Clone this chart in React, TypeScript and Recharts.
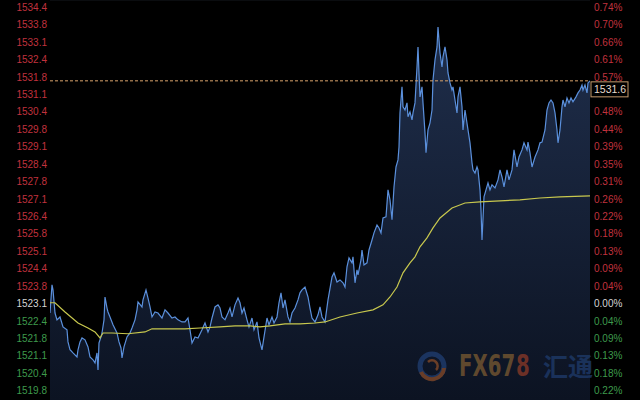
import {
  Area,
  CartesianGrid,
  ComposedChart,
  Line,
  ReferenceLine,
  XAxis,
  YAxis,
} from "recharts";

// left axis labels, top to bottom (index 17 = previous close)
const priceLabels = [
  "1534.4", "1533.8", "1533.1", "1532.4", "1531.8", "1531.1", "1530.4", "1529.8",
  "1529.1", "1528.4", "1527.8", "1527.1", "1526.4", "1525.8", "1525.1", "1524.4",
  "1523.8", "1523.1", "1522.4", "1521.8", "1521.1", "1520.4", "1519.8",
];

const pctLabels = [
  "0.74%", "0.70%", "0.66%", "0.61%", "0.57%", "0.52%", "0.48%", "0.44%",
  "0.39%", "0.35%", "0.31%", "0.26%", "0.22%", "0.18%", "0.13%", "0.09%",
  "0.04%", "0.00%", "0.04%", "0.09%", "0.13%", "0.18%", "0.22%",
];

const BASE_INDEX = 17;
const TOP = 1534.4;
const STEP = 14.6 / 22;
const LAST_PRICE = 1531.6;

// [minute, price]
const morning: [number, number][] = [
  [0, 1522.76], [2, 1523.83], [3, 1523.64], [5, 1522.76], [7, 1522.5], [10, 1522.61],
  [13, 1522.23], [17, 1522.12], [18, 1521.66], [20, 1521.36], [23, 1521.24], [27, 1521.09],
  [28, 1521.36], [30, 1521.66], [32, 1521.81], [35, 1521.74], [38, 1521.47], [40, 1521.09],
  [43, 1520.98], [45, 1520.86], [47, 1521.24], [48, 1520.59], [49, 1521.62], [51, 1521.85],
  [52, 1522.0], [54, 1522.5], [55, 1523.37], [57, 1522.95], [58, 1522.8], [60, 1522.61],
  [63, 1522.31], [67, 1522.0], [69, 1521.66], [71, 1521.43], [72, 1521.05], [74, 1521.47],
  [77, 1521.85], [80, 1522.0], [82, 1522.19], [85, 1522.5], [87, 1522.88], [88, 1523.18],
  [92, 1522.99], [93, 1523.26], [96, 1523.64], [98, 1523.33], [100, 1522.99], [102, 1522.61],
  [105, 1522.8], [108, 1522.76], [112, 1522.57], [115, 1522.88], [118, 1522.76], [122, 1522.57],
  [125, 1522.61], [128, 1522.5], [132, 1522.42],
];

const midday: [number, number][] = [
  [135, 1522.42], [138, 1522.57], [140, 1522.12], [142, 1521.62], [145, 1521.85], [148, 1521.81],
  [152, 1522.12], [155, 1522.38], [158, 1522.04], [160, 1522.23], [162, 1522.57], [165, 1522.99],
  [168, 1523.07], [170, 1522.95], [172, 1522.61], [175, 1522.5], [178, 1522.76], [180, 1522.95],
  [182, 1522.61], [185, 1523.07], [188, 1523.33], [190, 1523.15], [192, 1522.76], [194, 1522.95],
  [197, 1522.5], [199, 1522.23], [202, 1522.57], [204, 1522.12], [207, 1522.42], [209, 1521.81],
  [212, 1521.36], [214, 1521.85], [217, 1522.57], [219, 1522.31], [222, 1522.61], [224, 1522.38],
  [227, 1522.61], [229, 1523.15], [231, 1523.53], [233, 1522.95], [235, 1523.26], [238, 1522.61],
  [240, 1522.42], [242, 1522.76], [245, 1522.95], [248, 1523.26], [250, 1523.53], [252, 1523.64],
  [255, 1523.75], [258, 1523.37], [260, 1522.95], [262, 1522.57], [265, 1522.42], [268, 1522.69],
  [270, 1522.99], [272, 1522.61], [275, 1522.42],
];

const rally: [number, number][] = [
  [278, 1523.26], [282, 1524.13], [284, 1524.29], [287, 1523.94], [290, 1524.02], [293, 1523.91],
  [295, 1523.75], [297, 1524.52], [299, 1524.86], [302, 1524.67], [303, 1524.9], [305, 1523.91],
  [307, 1524.4], [308, 1524.21], [311, 1524.78], [312, 1525.16], [314, 1524.59], [317, 1524.67],
  [319, 1525.16], [322, 1525.54], [324, 1525.81], [327, 1526.11], [329, 1526.0], [331, 1525.81],
  [333, 1526.38], [336, 1526.42], [338, 1527.45], [340, 1527.07], [342, 1526.31], [344, 1527.56],
  [346, 1528.32], [348, 1528.59], [349, 1529.08], [350, 1530.38], [352, 1531.37], [353, 1530.61],
  [355, 1530.49], [357, 1530.76], [358, 1530.23], [360, 1530.42], [362, 1530.11], [363, 1530.38],
  [365, 1530.76], [367, 1532.13], [368, 1532.89], [369, 1531.9], [370, 1530.99], [372, 1531.37],
  [373, 1530.76], [375, 1529.62], [376, 1528.86], [378, 1529.73], [380, 1530.0], [382, 1530.49],
  [383, 1531.63], [385, 1532.4], [387, 1532.89], [388, 1533.65], [390, 1532.66], [392, 1532.13],
  [393, 1532.51], [395, 1532.89], [397, 1532.4], [398, 1531.9], [400, 1531.52], [402, 1531.25],
  [403, 1531.37], [405, 1530.87], [407, 1530.38], [408, 1530.99], [410, 1531.37], [412, 1530.61],
  [413, 1529.73], [415, 1530.49],
];

const evening: [number, number][] = [
  [418, 1529.73], [420, 1529.24], [422, 1528.48], [423, 1528.21], [425, 1528.09], [427, 1528.32],
  [428, 1528.21], [430, 1527.45], [431, 1526.69], [432, 1525.54], [434, 1527.18], [436, 1527.45],
  [438, 1527.71], [440, 1527.45], [442, 1527.64], [445, 1527.52], [448, 1527.83], [450, 1528.21],
  [452, 1527.94], [454, 1527.56], [457, 1528.21], [459, 1527.83], [462, 1528.21], [464, 1528.97],
  [467, 1528.32], [469, 1528.7], [472, 1528.97], [474, 1529.24], [477, 1528.97], [478, 1529.27],
  [480, 1528.86], [482, 1528.32], [485, 1528.7], [488, 1528.97], [490, 1529.24], [492, 1529.27],
  [495, 1529.73], [497, 1530.49], [499, 1530.76], [501, 1530.87], [503, 1530.76], [505, 1530.38],
  [507, 1529.73], [508, 1529.24], [510, 1529.73], [512, 1530.61], [513, 1530.87], [515, 1530.61],
  [517, 1530.95], [519, 1530.76], [521, 1530.95], [523, 1530.8], [526, 1530.99], [528, 1531.14],
  [530, 1531.25], [532, 1531.44], [533, 1531.25], [535, 1531.44], [537, 1531.14], [538, 1531.52],
  [540, 1531.6],
];

// average price line
const average: [number, number][] = [
  [0, 1523.15], [5, 1523.15], [15, 1522.8], [28, 1522.38], [38, 1522.19], [45, 1522.04],
  [50, 1521.81], [53, 1522.0], [62, 1522.0], [78, 1521.97], [95, 1522.04], [102, 1522.16],
  [112, 1522.16], [135, 1522.16], [150, 1522.19], [170, 1522.23], [185, 1522.27], [200, 1522.27],
  [210, 1522.23], [220, 1522.27], [235, 1522.35], [250, 1522.35], [265, 1522.38], [275, 1522.42],
  [290, 1522.61], [307, 1522.76], [323, 1522.88], [333, 1523.07], [340, 1523.37], [347, 1523.75],
  [353, 1524.29], [360, 1524.67], [365, 1524.9], [370, 1525.28], [377, 1525.62], [383, 1526.0],
  [390, 1526.38], [402, 1526.76], [415, 1526.95], [430, 1526.99], [450, 1527.03], [470, 1527.07],
  [490, 1527.14], [510, 1527.18], [540, 1527.22],
];

type Row = { t: number; p?: number; avg?: number };

function buildRows(): Row[] {
  const rows = new Map<number, Row>();
  for (const [t, p] of [...morning, ...midday, ...rally, ...evening]) {
    rows.set(t, { ...(rows.get(t) || { t }), p });
  }
  for (const [t, avg] of average) {
    rows.set(t, { ...(rows.get(t) || { t }), avg });
  }
  return [...rows.values()].sort((a, b) => a.t - b.t);
}

const rows = buildRows();
const tickValues = priceLabels.map((_, i) => TOP - i * STEP);
const domainTop = TOP + 7.3 / (17.43 / STEP);
const domainBottom = domainTop - 400 / (17.43 / STEP);

const RED = "#c0323e";
const GREEN = "#3e9a4c";
const WHITE = "#d4d4d4";
const FONT = "'Liberation Sans', Arial, sans-serif";

function colorFor(i: number) {
  if (i < BASE_INDEX) return RED;
  if (i > BASE_INDEX) return GREEN;
  return WHITE;
}

function indexOf(v: number) {
  return Math.round((TOP - v) / STEP);
}

function LeftTick(props: any) {
  const i = indexOf(props.payload.value);
  return (
    <text x={props.x} y={props.y} dy={3.5} textAnchor="end" fontSize={10} fontFamily={FONT} fill={colorFor(i)}>
      {priceLabels[i]}
    </text>
  );
}

function RightTick(props: any) {
  const v = props.payload.value;
  const i = indexOf(v);
  // the tick just below the last price sits under the price tag
  if (v < LAST_PRICE && LAST_PRICE - v < STEP) return <g />;
  return (
    <text x={props.x} y={props.y} dy={3.5} textAnchor="start" fontSize={10} fontFamily={FONT} fill={colorFor(i)}>
      {pctLabels[i]}
    </text>
  );
}

function PriceTag(props: any) {
  const vb = props.viewBox || {};
  const x = (vb.x ?? 50) + (vb.width ?? 540) + 1;
  const y = vb.y ?? 81;
  return (
    <g>
      <rect x={x} y={y + 1} width={37} height={15} fill="#000" stroke="#c49a6c" strokeWidth={1} />
      <text x={x + 3} y={y + 12.5} fontSize={10.5} fontFamily={FONT} fill="#e6dccf">
        {LAST_PRICE.toFixed(1)}
      </text>
    </g>
  );
}

const LOGO_FONT = "'DejaVu Sans Condensed', 'Liberation Sans Narrow', sans-serif";

function Watermark() {
  return (
    <svg width={640} height={400} style={{ position: "absolute", left: 0, top: 0, pointerEvents: "none" }}>
      <g opacity={0.85}>
        <circle cx={432} cy={366} r={12} fill="none" stroke="#1e3a6a" strokeWidth={5} />
        <path d="M421 372 A12 12 0 0 0 444 368" fill="none" stroke="#7a4528" strokeWidth={4} />
        <path d="M428 362 A5 5 0 1 1 436 370" fill="none" stroke="#7a4528" strokeWidth={2.5} />
        <g transform="translate(459 376) scale(1 1.35)">
          <text x={0} y={0} fontSize={22} fontWeight="bold" fontFamily={LOGO_FONT} fill="#6e5230">
            FX67
          </text>
        </g>
        <g transform="translate(516 376) scale(1 1.35)">
          <text x={0} y={0} fontSize={22} fontWeight="bold" fontFamily={LOGO_FONT} fill="#7d3527">
            8
          </text>
        </g>
        <text x={543} y={376} fontSize={25} fontWeight="bold" fontFamily="'Noto Sans CJK SC', sans-serif" fill="#1d3764">
          汇通
        </text>
      </g>
    </svg>
  );
}

export default function App() {
  return (
    <div style={{ position: "absolute", left: 0, top: 0, width: 640, height: 400, background: "#000", overflow: "hidden" }}>
      <ComposedChart width={640} height={400} data={rows} margin={{ top: 0, right: 0, bottom: 0, left: 0 }}>
        <defs>
          <linearGradient id="goldFill" x1="0" y1="0" x2="0" y2="1">
            <stop offset="0%" stopColor="#1f2e4b" />
            <stop offset="100%" stopColor="#0c1322" />
          </linearGradient>
        </defs>
        <CartesianGrid vertical={false} stroke="#15181e" />
        <XAxis type="number" dataKey="t" domain={[0, 540]} hide allowDataOverflow />
        <YAxis
          yAxisId="left"
          orientation="left"
          width={50}
          domain={[domainBottom, domainTop]}
          ticks={tickValues}
          interval={0}
          allowDataOverflow
          axisLine={false}
          tickLine={false}
          tickSize={0}
          tickMargin={3}
          tick={<LeftTick />}
        />
        <YAxis
          yAxisId="right"
          orientation="right"
          width={50}
          domain={[domainBottom, domainTop]}
          ticks={tickValues}
          interval={0}
          allowDataOverflow
          axisLine={false}
          tickLine={false}
          tickSize={0}
          tickMargin={4}
          tick={<RightTick />}
        />
        <Area
          yAxisId="left"
          type="linear"
          dataKey="p"
          stroke="#5b90dc"
          strokeWidth={1.2}
          fill="url(#goldFill)"
          fillOpacity={1}
          baseValue={domainBottom}
          connectNulls
          dot={false}
          activeDot={false}
          isAnimationActive={false}
        />
        <Line
          yAxisId="left"
          type="linear"
          dataKey="avg"
          stroke="#c8c84e"
          strokeWidth={1.2}
          connectNulls
          dot={false}
          activeDot={false}
          isAnimationActive={false}
        />
        <ReferenceLine
          yAxisId="left"
          y={LAST_PRICE}
          stroke="#d9a36c"
          strokeDasharray="3 2"
          label={<PriceTag />}
        />
      </ComposedChart>
      <Watermark />
    </div>
  );
}
